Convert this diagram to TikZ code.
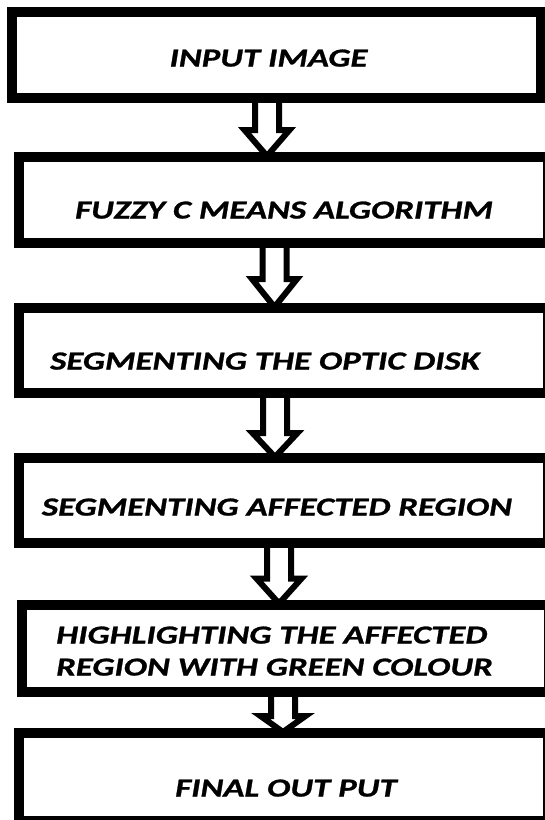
\documentclass[tikz,border=0pt]{standalone}
\usepackage{fontspec}
\newfontfamily\boxfont{Carlito Bold Italic}[FakeStretch=1.34, FakeBold=1]
\usetikzlibrary{calc}
\pgfdeclarelayer{back}
\pgfsetlayers{back,main}
\tikzset{
  box/.style={draw=black, fill=white, line width=10pt, inner sep=0pt, outer sep=0pt},
  lbl/.style={font=\boxfont\fontsize{26}{32}\selectfont, inner sep=0pt, text=black},
  barrow/.style={draw=black, fill=white, line width=6pt, line join=miter},
}
\newcommand\blockarrow[4]{%
  \begin{pgfonlayer}{back}
  \draw[barrow] let \p1=(#2.south), \p2=(#3.north) in
    (#1pt-12pt,\y1) -- (#1pt-12pt,\y2+1pt+#4pt) -- (#1pt-22.5pt,\y2+1pt+#4pt)
    -- (#1pt,\y2+1pt) -- (#1pt+22.5pt,\y2+1pt+#4pt) -- (#1pt+12pt,\y2+1pt+#4pt)
    -- (#1pt+12pt,\y1) -- cycle;
  \end{pgfonlayer}}
\begin{document}
\begin{tikzpicture}[x=1pt,y=-1pt]
\useasboundingbox (0,0) rectangle (545,820);
\begin{pgfonlayer}{back}
\fill[white] (0,0) rectangle (545,820);
\end{pgfonlayer}
% boxes
\node[box, minimum width=529.5pt, minimum height=86pt] (b1) at (276.25,55) {};
\node[box, minimum width=529pt, minimum height=86pt] (b2) at (283.5,200) {};
\node[box, minimum width=529pt, minimum height=85pt] (b3) at (283.5,350.5) {};
\node[box, minimum width=529pt, minimum height=85pt] (b4) at (283.5,500.5) {};
\node[box, minimum width=527.5pt, minimum height=87.5pt] (b5) at (285.25,648.25) {};
\node[box, minimum width=529pt, minimum height=88pt] (b6) at (283.5,777) {};
% texts
\node[lbl, anchor=base] (t1) at (268.5,66.5) {INPUT IMAGE};
\node[lbl, anchor=base] (t2) at (284,218.5) {FUZZY C MEANS ALGORITHM};
\node[lbl, anchor=base] (t3) at (265,369.5) {SEGMENTING THE OPTIC DISK};
\node[lbl, anchor=base] (t4) at (277,515.5) {SEGMENTING AFFECTED REGION};
\node[lbl, anchor=base west, align=left] (t5) at (56,675.5) {HIGHLIGHTING THE AFFECTED\\REGION WITH GREEN COLOUR};
\node[lbl, anchor=base] (t6) at (286,796.5) {FINAL OUT PUT};
% arrows
\blockarrow{267}{b1}{b2}{26}
\blockarrow{274.5}{b2}{b3}{28}
\blockarrow{275}{b3}{b4}{24}
\blockarrow{279}{b4}{b5}{25}
\blockarrow{283}{b5}{b6}{16}
\end{tikzpicture}
\end{document}
